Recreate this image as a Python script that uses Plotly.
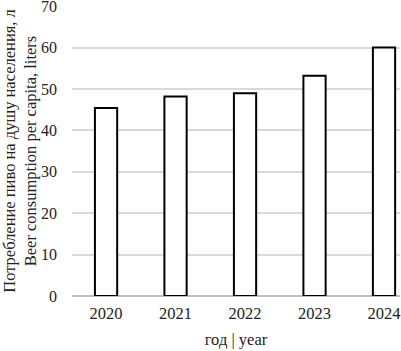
import plotly.graph_objects as go

years = ["2020", "2021", "2022", "2023", "2024"]
consumption = [45.4, 48.2, 49.0, 53.2, 60.0]
y_ticks = [0, 10, 20, 30, 40, 50, 60, 70]

font_family = "Liberation Serif, Times New Roman, serif"

fig = go.Figure(
    go.Bar(
        x=years,
        y=consumption,
        width=0.32,
        marker=dict(color="white", line=dict(color="black", width=2)),
    )
)

fig.update_layout(
    width=401,
    height=351,
    margin=dict(l=72, r=1, t=6, b=55),
    plot_bgcolor="white",
    paper_bgcolor="white",
    font=dict(family=font_family, size=16, color="#222222"),
    showlegend=False,
)

fig.update_xaxes(
    type="category",
    range=[-0.49, 4.23],
    automargin=False,
    showgrid=False,
    showline=False,
    ticks="outside",
    ticklen=2,
    tickcolor="rgba(0,0,0,0)",
    tickfont=dict(size=16.5),
    title=dict(text="год | year", font=dict(size=16.5), standoff=11),
)

fig.update_yaxes(
    range=[0, 70.05],
    tickvals=y_ticks,
    automargin=False,
    showgrid=True,
    gridcolor="#d9d9d9",
    gridwidth=1.5,
    zeroline=True,
    zerolinecolor="#bfbfbf",
    zerolinewidth=1.5,
    showline=False,
    ticks="",
    ticklabelstandoff=14,
    ticklabeloverflow="allow",
    tickfont=dict(size=16),
    title=dict(
        text="Потребление пиво на душу населения, л<br>Beer consumption per capita, liters",
        font=dict(size=16.5),
    ),
)

fig.write_html(
    "out.html",
    config={"displayModeBar": False},
    post_script="document.body.style.margin='0';document.body.style.overflow='hidden';",
)
